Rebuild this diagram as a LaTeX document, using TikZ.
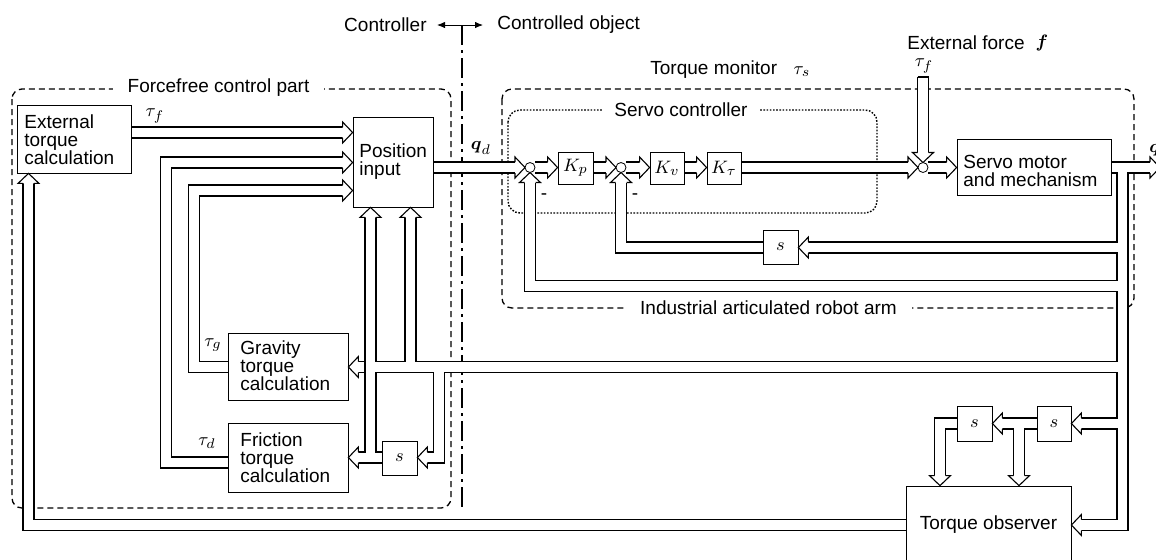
\documentclass[tikz,border=0pt]{standalone}
\usepackage{fontspec}
\setmainfont{Liberation Sans}
\usepackage{amsmath}
\usetikzlibrary{arrows.meta}
\pgfdeclarelayer{back}
\pgfdeclarelayer{chan}
\pgfsetlayers{back,chan,main}
% hollow arrow head: tip point, direction angle
\newcommand\hd[2]{\begin{scope}[shift={(#1)},rotate=#2]
 \fill[white] (-10,-10.5) -- (0,0) -- (-10,10.5) -- cycle;
 \draw[line width=0.55pt] (-10,-5.5) -- (-10,-10.5) -- (0,0) -- (-10,10.5) -- (-10,5.5);
 \end{scope}}
% all double-line channels
\newcommand\chans{%
\draw[chan] (ext.east |- ytf) -- (pos.west |- ytf);
\draw[chan] (fric.west |- yfo) -- (xfr |- yfo) -- (xfr |- yfr) -- (pos.west |- yfr);
\draw[chan] (grav.west |- yF3) -- (xgr |- yF3) -- (xgr |- ygr) -- (pos.west |- ygr);
\draw[chan] (obs.west |- ybot) -- (xL |- ybot) -- (ext.south -| xL);
\draw[chan] (pos.east |- yq) -- (c1w);
\draw[chan] (c1e) -- (kp.west |- yq);
\draw[chan] (kp.east |- yq) -- (c2w);
\draw[chan] (c2e) -- (kv.west |- yq);
\draw[chan] (kv.east |- yq) -- (kt.west |- yq);
\draw[chan] (kt.east |- yq) -- (c3w);
\draw[chan] (tftop) -- (c3n);
\draw[chan] (c3e) -- (servo.west |- yq);
\draw[chan] (servo.east |- yq) -- (qend);
\draw[chan] (xV |- yq) -- (xV |- ybot) -- (obs.east |- ybot);
\draw[chan] (xV |- yv) -- (sv.east |- yv);
\draw[chan] (sv.west |- yv) -- (c2 |- yv) -- (c2s);
\draw[chan] (xV |- yp) -- (c1 |- yp) -- (c1s);
\draw[chan] (xV |- yF3) -- (grav.east |- yF3);
\draw[chan] (xup |- yF3) -- (pos.south -| xup);
\draw[chan] (xdn |- yF3) -- (xdn |- yf) -- (sf.east |- yf);
\draw[chan] (sf.west |- yf) -- (fric.east |- yf);
\draw[chan] (xP1 |- yf) -- (pos.south -| xP1);
\draw[chan] (xV |- yobs) -- (so2.east |- yobs);
\draw[chan] (so2.west |- yobs) -- (so1.east |- yobs);
\draw[chan] (xbr |- yobs) -- (obs.north -| xbr);
\draw[chan] (so1.west |- yobs) -- (xo1 |- yobs) -- (obs.north -| xo1);
}
\begin{document}
\begin{tikzpicture}[x=0.5pt,y=-0.5pt,line width=0.6pt,
 font=\fontsize{9.5}{9}\selectfont,
 box/.style={draw,fill=white,inner sep=0},
 txt/.style={anchor=west,align=left,inner sep=0},
 lbl/.style={inner sep=0},
 sumj/.style={draw,fill=white,circle,inner sep=0,minimum size=5pt},
 dsh/.style={line width=0.65pt,dash pattern=on 3pt off 2pt,rounded corners=5pt},
 dtt/.style={line width=0.7pt,dash pattern=on 0.8pt off 0.8pt,rounded corners=6pt},
 dashdot/.style={line width=0.65pt,dash pattern=on 10pt off 2.5pt on 1.5pt off 2.5pt}]
\useasboundingbox (0,0) rectangle (1156,559);
\begin{pgfonlayer}{back}
\fill[white] (0,0) rectangle (1156,559);
\end{pgfonlayer}
\clip (0,0) rectangle (1156,559);

% helper coordinates
\coordinate (ytf) at (0,132.5);
\coordinate (yfr) at (0,162.5);
\coordinate (yfo) at (0,462.5);
\coordinate (ygr) at (0,190.5);
\coordinate (yq) at (0,167.5);
\coordinate (yv) at (0,247.5);
\coordinate (yp) at (0,286);
\coordinate (yF3) at (0,367);
\coordinate (yf) at (0,457.5);
\coordinate (yobs) at (0,423.5);
\coordinate (ybot) at (0,525);
\coordinate (xfr) at (166,0);
\coordinate (xgr) at (194,0);
\coordinate (xL) at (28.5,0);
\coordinate (xV) at (1122.5,0);
\coordinate (xP1) at (370.5,0);
\coordinate (xup) at (410.5,0);
\coordinate (xdn) at (439,0);
\coordinate (xbr) at (1019,0);
\coordinate (xo1) at (940,0);
\coordinate (c1) at (530,167.5);
\coordinate (c1w) at (525,167.5);
\coordinate (c1e) at (535,167.5);
\coordinate (c1s) at (530,172.5);
\coordinate (c2) at (621,167.5);
\coordinate (c2w) at (616,167.5);
\coordinate (c2e) at (626,167.5);
\coordinate (c2s) at (621,172.5);
\coordinate (c3) at (923,167.5);
\coordinate (c3w) at (918,167.5);
\coordinate (c3e) at (928,167.5);
\coordinate (c3n) at (923,162.5);
\coordinate (tftop) at (923,77);
\coordinate (qend) at (1160,167.5);
\coordinate (divT) at (462,25);
\coordinate (divB) at (462,512);
\coordinate (arrL) at (437,25);
\coordinate (arrR) at (483,25);

% dashed regions
\begin{pgfonlayer}{back}
\draw[dsh] (12,89) rectangle (451,508);
\draw[dsh] (502,89) rectangle (1134,308);
\draw[dtt] (508,110) rectangle (877,213);
\draw[dashdot] (divT) -- (divB);
\end{pgfonlayer}
\draw[{Latex[length=4pt,width=3.2pt]}-{Latex[length=4pt,width=3.2pt]}] (arrL) -- (arrR);

% boxes
\node[box,minimum width=57pt,minimum height=34pt] (ext) at (74,139) {};
\node[box,minimum width=40pt,minimum height=45pt] (pos) at (393,162) {};
\node[box,minimum width=60pt,minimum height=33.5pt] (grav) at (288,366.5) {};
\node[box,minimum width=60pt,minimum height=34.5pt] (fric) at (288,457.5) {};
\node[box,minimum width=17.5pt,minimum height=16pt] (kp) at (575.5,168) {$K_p$};
\node[box,minimum width=17pt,minimum height=16pt] (kv) at (667,168) {$K_v$};
\node[box,minimum width=17pt,minimum height=16pt] (kt) at (724,168) {$K_\tau$};
\node[box,minimum width=77pt,minimum height=28pt] (servo) at (1034,167) {};
\node[box,minimum width=17.5pt,minimum height=17pt] (sv) at (780.5,247) {$s$};
\node[box,minimum width=17.5pt,minimum height=17pt] (sf) at (399.5,458) {$s$};
\node[box,minimum width=17.5pt,minimum height=17.5pt] (so1) at (974.5,423.5) {$s$};
\node[box,minimum width=17pt,minimum height=17.5pt] (so2) at (1054,423.5) {$s$};
\node[box,minimum width=82.5pt,minimum height=42pt] (obs) at (988.5,528) {};

% channels: black pass then white pass
\begin{pgfonlayer}{chan}
\tikzset{chan/.style={line width=6.05pt,draw=black,shorten >=5pt}}
\chans
\tikzset{chan/.style={line width=4.95pt,draw=white,shorten >=5pt}}
\chans
\end{pgfonlayer}
\draw[line width=0.55pt] (917.5,77) -- (928.5,77);
\draw[line width=0.55pt] (365,361.5) -- (365,372.5);

% arrow heads
\hd{pos.west |- ytf}{0}
\hd{pos.west |- yfr}{0}
\hd{pos.west |- ygr}{0}
\hd{ext.south -| xL}{90}
\hd{c1w}{0}
\hd{kp.west |- yq}{0}
\hd{c2w}{0}
\hd{kv.west |- yq}{0}
\hd{kt.west |- yq}{0}
\hd{c3w}{0}
\hd{c3n}{270}
\hd{servo.west |- yq}{0}
\hd{qend}{0}
\hd{obs.east |- ybot}{180}
\hd{sv.east |- yv}{180}
\hd{c2s}{90}
\hd{c1s}{90}
\hd{grav.east |- yF3}{180}
\hd{pos.south -| xup}{90}
\hd{sf.east |- yf}{180}
\hd{fric.east |- yf}{180}
\hd{pos.south -| xP1}{90}
\hd{so2.east |- yobs}{180}
\hd{so1.east |- yobs}{180}
\hd{obs.north -| xbr}{270}
\hd{obs.north -| xo1}{270}

% summing junctions
\node[sumj] (sum1) at (c1) {};
\node[sumj] (sum2) at (c2) {};
\node[sumj] (sum3) at (c3) {};

% texts
\node[txt] (extT) at (24,140) {External\\torque\\calculation};
\node[txt] (posT) at (359,162) {Position\\input};
\node[txt] (gravT) at (240,366) {Gravity\\torque\\calculation};
\node[txt] (fricT) at (240,458) {Friction\\torque\\calculation};
\node[txt] (servoT) at (963,171) {Servo motor\\and mechanism};
\node[lbl] (obsT) at (988.5,525) {Torque observer};

\node[lbl,anchor=east] (ctrl) at (427,25) {Controller};
\node[lbl,anchor=west] (ctrd) at (497,25) {Controlled object};
\node[lbl,fill=white,inner xsep=7.5pt,inner ysep=1pt] (ffl) at (218.5,88) {Forcefree control part};
\node[lbl,fill=white,inner xsep=5.5pt,inner ysep=1pt] (scl) at (681,110) {Servo controller};
\node[lbl,fill=white,inner xsep=7.5pt,inner ysep=1pt] (ial) at (768.5,308) {Industrial articulated robot arm};
\node[lbl,anchor=west] (tmon) at (650,70) {Torque monitor};
\node[lbl] (taus) at (802,72) {$\tau_s$};
\node[lbl,anchor=west] (extf) at (907,43) {External force};
\node[lbl] (fvec) at (1042,43) {$\boldsymbol{f}$};
\node[lbl] (tauf2) at (924,66) {$\tau_f$};
\node[lbl] (tauf1) at (155,116) {$\tau_f$};
\node[lbl] (taug) at (213,345) {$\tau_g$};
\node[lbl] (taud) at (207,443) {$\tau_d$};
\node[lbl] (qd) at (481,148) {$\boldsymbol{q}_d$};
\node[lbl,anchor=west] (qout) at (1149,150) {$\boldsymbol{q}$};
\node[lbl] (m1) at (544,197) {-};
\node[lbl] (m2) at (635,197) {-};
\end{tikzpicture}
\end{document}
